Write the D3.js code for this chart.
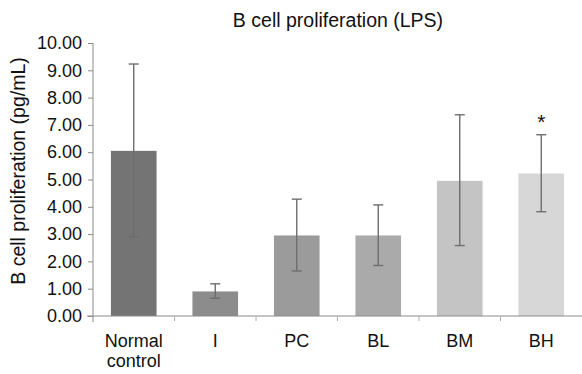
<!DOCTYPE html>
<html>
<head>
<meta charset="utf-8">
<script src="https://cdn.jsdelivr.net/npm/d3@7"></script>
<style>
  body { margin: 0; background: #fff; }
  text { font-family: "Liberation Sans", Arial, sans-serif; fill: #111; }
</style>
</head>
<body>
<svg id="plot" width="582" height="374"></svg>
<script>
// data
var groups = ["Normal control", "I", "PC", "BL", "BM", "BH"];
var means = [6.05, 0.90, 2.95, 2.95, 4.95, 5.22];
var errHigh = [9.23, 1.18, 4.28, 4.07, 7.37, 6.64];
var errLow = [2.90, 0.65, 1.65, 1.85, 2.58, 3.82];
var barColors = ["#747474", "#8c8c8c", "#9b9b9b", "#aaaaaa", "#c4c4c4", "#d7d7d7"];
var yTicks = [0, 1, 2, 3, 4, 5, 6, 7, 8, 9, 10];
var starred = ["BH"];

var svg = d3.select('#plot'),
margin = {top: 43, right: 0, bottom: 58, left: 93},
width = +svg.attr("width") - margin.left - margin.right,
height = +svg.attr("height") - margin.top - margin.bottom;
var g = svg.append("g")
.attr("transform", "translate(" + margin.left + "," + margin.top + ")");

var x = d3.scaleBand().domain(groups).range([0, width]).paddingInner(0.44).paddingOuter(0.22),
y = d3.scaleLinear().domain([0, 10]).range([height, 0]);
var step = x.step();

// title
svg.append("text")
    .attr('x', 338)
    .attr('y', 27)
    .attr('text-anchor', 'middle')
    .style('font-size', '19.5px')
    .text('B cell proliferation (LPS)');

// bars
g.selectAll('.bar')
    .data(groups)
    .enter()
    .append('rect')
    .attr('class', 'bar')
    .attr('x', function(d) { return x(d); })
    .attr('y', function(d, i) { return y(means[i]); })
    .attr('width', x.bandwidth())
    .attr('height', function(d, i) { return height - y(means[i]); })
    .style('fill', function(d, i) { return barColors[i]; });

// error bars
var eb = g.selectAll('.err')
    .data(groups)
    .enter()
    .append('g')
    .attr('class', 'err')
    .style('stroke', '#6e6e6e')
    .style('stroke-width', 1.4);
eb.append('line')
    .attr('x1', function(d) { return x(d) + x.bandwidth() / 2; })
    .attr('x2', function(d) { return x(d) + x.bandwidth() / 2; })
    .attr('y1', function(d, i) { return y(errHigh[i]); })
    .attr('y2', function(d, i) { return y(errLow[i]); });
eb.append('line')
    .attr('x1', function(d) { return x(d) + x.bandwidth() / 2 - 5; })
    .attr('x2', function(d) { return x(d) + x.bandwidth() / 2 + 5; })
    .attr('y1', function(d, i) { return y(errHigh[i]); })
    .attr('y2', function(d, i) { return y(errHigh[i]); });
eb.append('line')
    .attr('x1', function(d) { return x(d) + x.bandwidth() / 2 - 5; })
    .attr('x2', function(d) { return x(d) + x.bandwidth() / 2 + 5; })
    .attr('y1', function(d, i) { return y(errLow[i]); })
    .attr('y2', function(d, i) { return y(errLow[i]); });

// significance marker
g.selectAll('.star')
    .data(starred)
    .enter()
    .append('text')
    .attr('class', 'star')
    .attr('x', function(d) { return x(d) + x.bandwidth() / 2; })
    .attr('y', function(d) { return y(errHigh[groups.indexOf(d)]) - 6; })
    .attr('text-anchor', 'middle')
    .style('font-size', '21px')
    .text('*');

// y axis
var yAxis = g.append("g")
    .call(d3.axisLeft(y).tickValues(yTicks).tickSize(5).tickPadding(6).tickFormat(d3.format('.2f')));
yAxis.select('.domain').attr('d', 'M0,0V' + (height + 6));
yAxis.selectAll('text').style('font-size', '18px').style('fill', '#111');
yAxis.selectAll('line, path').style('stroke', '#8a8a8a');

// x axis, ticks on category boundaries
var xAxis = g.append("g")
    .attr('transform', 'translate(0,' + height + ')');
xAxis.append('line')
    .attr('x1', -6).attr('x2', width)
    .style('stroke', '#8a8a8a');
xAxis.selectAll('.xtick')
    .data(groups.slice(1))
    .enter()
    .append('line')
    .attr('x1', function(d) { return x(d) - step * x.paddingInner() / 2; })
    .attr('x2', function(d) { return x(d) - step * x.paddingInner() / 2; })
    .attr('y1', 0).attr('y2', 5)
    .style('stroke', '#b0b0b0');
var labels = xAxis.selectAll('.xlab')
    .data(groups)
    .enter()
    .append('text')
    .attr('class', 'xlab')
    .attr('text-anchor', 'middle')
    .style('font-size', '18px')
    .attr('transform', function(d) { return 'translate(' + (x(d) + x.bandwidth() / 2) + ',31)'; });
labels.selectAll('tspan')
    .data(function(d) { return d.split(' '); })
    .enter()
    .append('tspan')
    .attr('x', 0)
    .attr('dy', function(d, i) { return i === 0 ? 0 : 20; })
    .text(function(d) { return d; });

// y axis title
svg.append('text')
    .attr('transform', 'translate(25,171) rotate(-90)')
    .attr('text-anchor', 'middle')
    .style('font-size', '19.5px')
    .text('B cell proliferation (pg/mL)');
</script>
</body>
</html>
